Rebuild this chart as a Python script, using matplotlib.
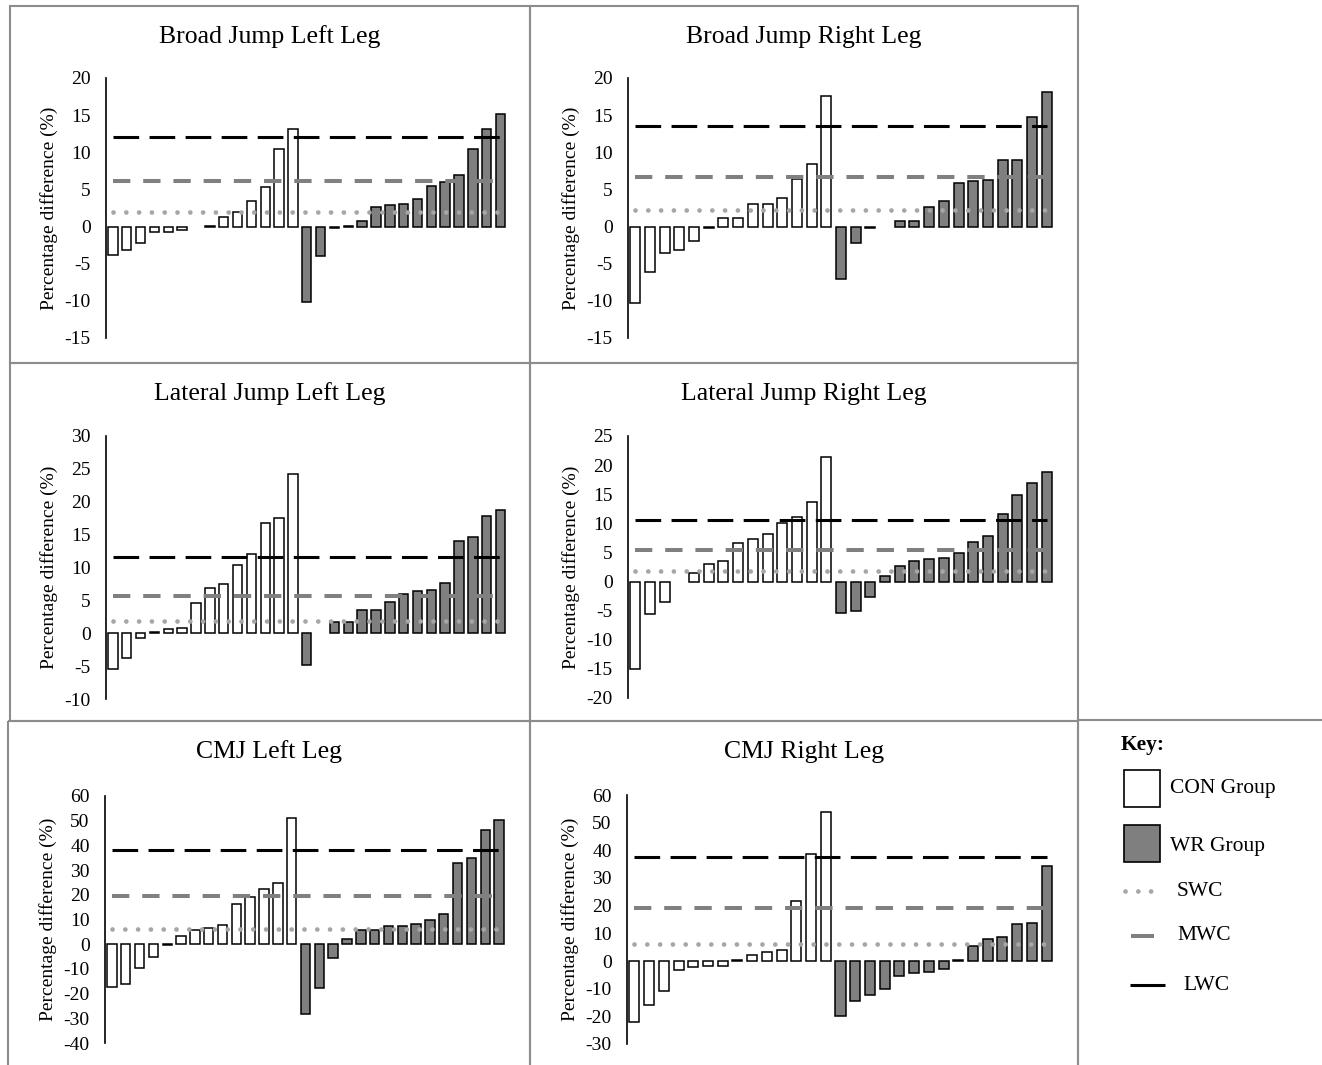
import numpy as np
import matplotlib.pyplot as plt
from matplotlib.patches import Rectangle
from matplotlib.lines import Line2D

plt.rcParams['font.family'] = ['Liberation Serif', 'DejaVu Serif']
plt.rcParams['axes.unicode_minus'] = False

W, H = 1322, 1065
nan = np.nan

# percentage differences per participant, sorted within each group
bj_left_con = [-3.8, -3.2, -2.2, -0.7, -0.7, -0.45, nan, 0.1, 1.35, 1.9, 3.5, 5.3, 10.4, 13.1]
bj_left_wr = [-10.1, -4.0, -0.2, 0.1, 0.8, 2.7, 2.9, 3.1, 3.7, 5.5, 6.0, 7.0, 10.4, 13.1, 15.2]
bj_right_con = [-10.3, -6.1, -3.6, -3.2, -2.0, -0.2, 1.1, 1.1, 3.1, 3.1, 3.9, 6.4, 8.4, 17.6]
bj_right_wr = [-7.0, -2.2, -0.15, nan, 0.8, 0.8, 2.6, 3.4, 5.8, 6.1, 6.3, 8.9, 9.0, 14.7, 18.1]
lat_left_con = [-5.4, -3.7, -0.75, 0.15, 0.6, 0.85, 4.6, 6.9, 7.5, 10.4, 12.1, 16.8, 17.6, 24.2]
lat_left_wr = [-4.9, nan, 1.75, 1.75, 3.5, 3.5, 4.8, 5.9, 6.4, 6.6, 7.6, 14.1, 14.7, 17.8, 18.8]
lat_right_con = [-15.0, -5.5, -3.5, nan, 1.5, 3.0, 3.5, 6.6, 7.3, 8.1, 10.1, 11.1, 13.7, 21.4]
lat_right_wr = [-5.4, -5.0, -2.7, 1.0, 2.7, 3.5, 3.8, 4.1, 4.9, 6.8, 7.8, 11.6, 14.8, 16.9, 18.9]
cmj_left_con = [-17.3, -16.0, -9.7, -5.0, -0.4, 3.4, 5.6, 6.5, 7.7, 16.4, 19.0, 22.3, 24.6, 51.2]
cmj_left_wr = [-28.1, -17.9, -5.6, 2.0, 5.8, 5.8, 7.5, 7.5, 8.1, 9.8, 12.2, 32.9, 34.7, 46.4, 50.1]
cmj_right_con = [-22.1, -15.9, -10.8, -3.4, -2.2, -1.8, -1.8, 0.2, 2.0, 3.2, 3.8, 21.6, 38.7, 53.9]
cmj_right_wr = [-19.8, -14.4, -12.4, -10.2, -5.5, -4.3, -4.0, -2.8, 0.2, 5.4, 7.9, 8.6, 13.2, 13.8, 34.4]

# smallest / moderate / large worthwhile change
bj_left_wc = (2.0, 6.1, 12.1)
bj_right_wc = (2.2, 6.7, 13.5)
lat_left_wc = (1.8, 5.7, 11.6)
lat_right_wc = (1.8, 5.4, 10.5)
cmj_left_wc = (6.2, 19.5, 38.0)
cmj_right_wc = (6.0, 19.0, 37.5)

titles = ["Broad Jump Left Leg", "Broad Jump Right Leg",
          "Lateral Jump Left Leg", "Lateral Jump Right Leg",
          "CMJ Left Leg", "CMJ Right Leg"]

panels = [
    (bj_left_con, bj_left_wr, bj_left_wc, (106, 507.5, 78, 338), (-15, 20, 5), (10, 6, 530, 363), 37),
    (bj_right_con, bj_right_wr, bj_right_wc, (628, 1054, 78, 338), (-15, 20, 5), (530, 6, 1078, 363), 37),
    (lat_left_con, lat_left_wr, lat_left_wc, (106, 507.5, 436, 699), (-10, 30, 5), (10, 363, 530, 721), 394),
    (lat_right_con, lat_right_wr, lat_right_wc, (628, 1054, 436, 698), (-20, 25, 5), (530, 363, 1078, 721), 394),
    (cmj_left_con, cmj_left_wr, cmj_left_wc, (105, 506, 796, 1043), (-40, 60, 10), (8, 721, 530, 1075), 752),
    (cmj_right_con, cmj_right_wr, cmj_right_wc, (627, 1054, 795, 1044), (-30, 60, 10), (530, 721, 1078, 1075), 752),
]

CON_COLOR = "white"
WR_COLOR = "#7f7f7f"
SWC_COLOR = "#a6a6a6"
MWC_COLOR = "#808080"
LWC_COLOR = "black"
BORDER = "#8c8c8c"

fig = plt.figure(figsize=(W / 100, H / 100), dpi=100)

# background layer in pixel coordinates for panel frames and the key
bg = fig.add_axes([0, 0, 1, 1], zorder=-1)
bg.set_xlim(0, W)
bg.set_ylim(H, 0)
bg.axis("off")


def draw_lines(ax, n, wc):
    swc, mwc, lwc = wc
    ax.plot([0, n - 1], [swc, swc], color=SWC_COLOR, lw=3.4,
            dashes=(0.01, 2.7), dash_capstyle="round", zorder=3)
    ax.plot([0, n - 1], [mwc, mwc], color=MWC_COLOR, lw=2.9,
            dashes=(4.3, 3.2), dash_capstyle="butt", zorder=3)
    ax.plot([0, n - 1], [lwc, lwc], color=LWC_COLOR, lw=2.2,
            dashes=(8.4, 3.4), dash_capstyle="butt", zorder=3)


for (con, wr, wc, (x0, x1, y0, y1), (lo, hi, step), box, ty), title in zip(panels, titles):
    bx0, by0, bx1, by1 = box
    bg.add_patch(Rectangle((bx0, by0), bx1 - bx0, by1 - by0, fill=False,
                           edgecolor=BORDER, lw=1.5))
    fig.text((bx0 + bx1) / 2 / W, 1 - ty / H, title, ha="center", va="center",
             fontsize=18.5)

    ax = fig.add_axes([x0 / W, 1 - y1 / H, (x1 - x0) / W, (y1 - y0) / H])
    ax.set_facecolor("none")
    values = np.array(con + wr, dtype=float)
    n = len(values)
    x = np.arange(n)
    colors = [CON_COLOR] * len(con) + [WR_COLOR] * len(wr)
    ok = ~np.isnan(values)
    ax.bar(x[ok], values[ok], width=0.68, color=np.array(colors)[ok],
           edgecolor="black", linewidth=1.1, zorder=2)
    draw_lines(ax, n, wc)

    ax.set_xlim(-0.5, n - 0.5)
    ax.set_ylim(lo, hi)
    ticks = np.arange(lo, hi + step, step)
    ax.set_yticks(ticks)
    ax.set_yticklabels([str(t) for t in ticks])
    ax.set_xticks([])
    ax.tick_params(axis="y", length=0, pad=11, labelsize=14)
    for s in ["top", "right", "bottom"]:
        ax.spines[s].set_visible(False)
    ax.spines["left"].set_linewidth(1.2)
    ax.set_ylabel("Percentage difference (%)", fontsize=14)
    ax.yaxis.set_label_coords(-48 / (x1 - x0), 0.5)

# key
bg.add_patch(Rectangle((1078, 720), 260, 360, fill=False, edgecolor=BORDER, lw=1.5))
bg.text(1121, 745, "Key:", fontsize=15.5, fontweight="bold", va="center", ha="left")
bg.add_patch(Rectangle((1124, 770), 36, 37, facecolor=CON_COLOR, edgecolor="black", lw=1.2))
bg.text(1170, 788, "CON Group", fontsize=15.5, va="center", ha="left")
bg.add_patch(Rectangle((1124, 825), 36, 37, facecolor=WR_COLOR, edgecolor="black", lw=1.2))
bg.text(1170, 847, "WR Group", fontsize=15.5, va="center", ha="left")
bg.add_line(Line2D([1125, 1153], [891, 891], color=SWC_COLOR, lw=3.4,
                   dashes=(0.01, 2.7), dash_capstyle="round"))
bg.text(1177, 891, "SWC", fontsize=15.5, va="center", ha="left")
bg.add_line(Line2D([1131, 1154], [936, 936], color=MWC_COLOR, lw=2.9,
                   solid_capstyle="butt"))
bg.text(1177, 936, "MWC", fontsize=15.5, va="center", ha="left")
bg.add_line(Line2D([1130, 1165], [985, 985], color=LWC_COLOR, lw=2.2,
                   solid_capstyle="butt"))
bg.text(1183, 985, "LWC", fontsize=15.5, va="center", ha="left")

fig.savefig("out.png", dpi=100, facecolor="white")
